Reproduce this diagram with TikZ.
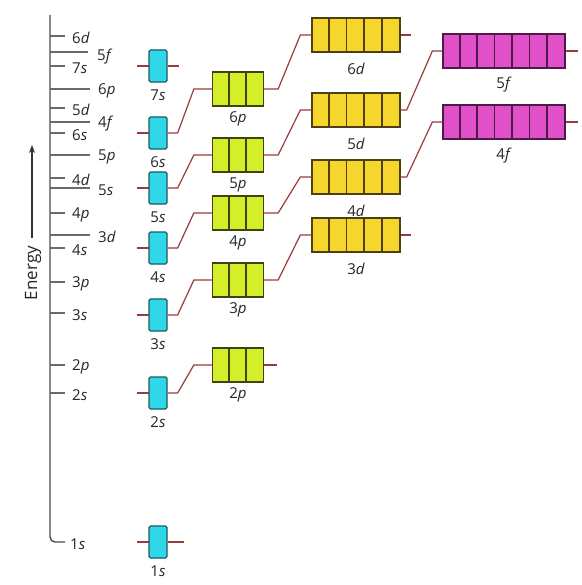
\documentclass[tikz,border=0pt]{standalone}
\usepackage{fontspec}
\setmainfont{Open Sans}
\usetikzlibrary{calc,arrows.meta}
\definecolor{sfill}{HTML}{2ED8E8}
\definecolor{sdraw}{HTML}{1E5A5E}
\definecolor{pfill}{HTML}{D4EE2A}
\definecolor{pdraw}{HTML}{3E4410}
\definecolor{dfill}{HTML}{F6D52C}
\definecolor{ddraw}{HTML}{4E4010}
\definecolor{ffill}{HTML}{E050C8}
\definecolor{fdraw}{HTML}{4E1848}
\definecolor{conncol}{HTML}{9A3B3B}
\definecolor{tickcol}{HTML}{6A6A6A}
\newcommand\orbdiv[4]{% name, last index, cell width, colour
  \foreach \i in {1,...,#2}
    \draw[#4, line width=1.6pt] ($(#1.north west)+(\i*#3,0)$) -- ($(#1.south west)+(\i*#3,0)$);}
\begin{document}
\begin{tikzpicture}[x=1pt,y=-1pt,
  orb/.style={line width=1.3pt, inner sep=0pt, minimum height=34pt},
  sorb/.style={orb, fill=sfill, draw=sdraw, minimum width=18pt, minimum height=32pt, rounded corners=1.5pt},
  porb/.style={orb, fill=pfill, draw=pdraw, minimum width=51pt},
  dorb/.style={orb, fill=dfill, draw=ddraw, minimum width=88pt},
  forb/.style={orb, fill=ffill, draw=fdraw, minimum width=122pt},
  conn/.style={draw=conncol, line width=1.2pt},
  lab/.style={font=\fontsize{15}{15}\selectfont, text=black!85, inner sep=0pt, anchor=north},
  axlab/.style={font=\fontsize{15}{15}\selectfont, text=black!85, inner sep=0pt, anchor=west},
  tickline/.style={draw=tickcol, line width=1.2pt}]
\useasboundingbox (0,0) rectangle (581,585);
\fill[white] (0,0) rectangle (581,585);

% energy axis
\draw[draw=black!70, line width=1.4pt, rounded corners=5pt] (50,15) |- (65,542);
\draw[black!80, line width=1.2pt, -{Stealth[length=8pt,width=6pt]}] (32,238) -- (32,145);
\node[rotate=90, font=\fontsize{17}{17}\selectfont, text=black!85, inner sep=0pt] (energy) at (33,273) {Energy};

% short ticks
\foreach \yy/\tx in {36/6\textit{d}, 66/7\textit{s}, 108/5\textit{d}, 133/6\textit{s}, 178/4\textit{d}, 213/4\textit{p}, 248/4\textit{s}, 282/3\textit{p}, 313/3\textit{s}, 365/2\textit{p}, 393/2\textit{s}}{
  \draw[tickline] (50,\yy) -- (65,\yy);
  \node[axlab] at (72,\yy+2) {\tx};}
\node[axlab] at (70,544) {1\textit{s}};
% long ticks
\draw[tickline, line width=2pt] (50,52) -- (88,52);
\node[axlab] at (97,57) {5\textit{f}};
\foreach \yy/\tx in {89/6\textit{p}, 122/4\textit{f}, 155/5\textit{p}, 188/5\textit{s}, 235/3\textit{d}}{
  \draw[tickline] (50,\yy) -- (90,\yy);
  \node[axlab] at (98,\yy+2) {\tx};}

% s orbitals
\foreach \n/\yy in {1/542, 2/393, 3/315, 4/248, 5/188, 6/133, 7/66}{
  \draw[conn] (137,\yy) -- (149,\yy);
  \node[sorb] (s\n) at (158,\yy) {};
  \node[lab] (ls\n) at ($(s\n.south)+(0,7)$) {\n\textit{s}};}

% p orbitals
\foreach \n/\yy in {2/365, 3/280, 4/213, 5/155, 6/89}{
  \node[porb] (p\n) at (238,\yy) {};
  \orbdiv{p\n}{2}{17}{pdraw}
  \node[lab] (lp\n) at ($(p\n.south)+(0,5)$) {\n\textit{p}};}

% d orbitals
\foreach \n/\yy in {3/235, 4/177, 5/110, 6/35}{
  \node[dorb] (d\n) at (356,\yy) {};
  \orbdiv{d\n}{4}{17.6}{ddraw}
  \node[lab] (ld\n) at ($(d\n.south)+(0,10)$) {\n\textit{d}};}

% f orbitals
\foreach \n/\yy in {4/122, 5/51}{
  \node[forb] (f\n) at (504,\yy) {};
  \orbdiv{f\n}{6}{17.43}{fdraw}
  \node[lab] (lf\n) at ($(f\n.south)+(0,8)$) {\n\textit{f}};}

% connectors
\draw[conn] (s1.east) -- ++(16,0);
\draw[conn] (s7.east) -- ++(11,0);
\foreach \n in {2,...,6}
  \draw[conn] (s\n.east) -- ++(10,0) -- ($(p\n.west)+(-18,0)$) -- (p\n.west);
\draw[conn] (p2.east) -- ++(13,0);
\foreach \n in {3,...,6}
  \draw[conn] (p\n.east) -- ++(14,0) -- ($(d\n.west)+(-11,0)$) -- (d\n.west);
\draw[conn] (d3.east) -- ++(10,0);
\draw[conn] (d6.east) -- ++(10,0);
\foreach \n in {4,5}
  \draw[conn] (d\n.east) -- ++(6,0) -- ($(f\n.west)+(-10,0)$) -- (f\n.west);
\draw[conn] (f4.east) -- ++(12,0);
\draw[conn] (f5.east) -- ++(12,0);
\end{tikzpicture}
\end{document}
